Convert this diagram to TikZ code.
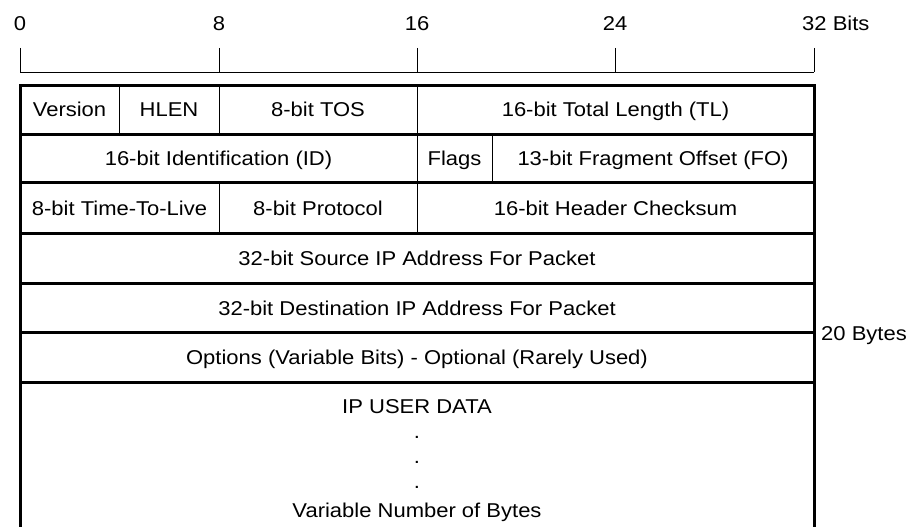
\documentclass[tikz,border=0pt]{standalone}
\usepackage{fontspec}
\setmainfont[FakeStretch=1.1]{Liberation Sans}
\begin{document}
\begin{tikzpicture}[x=1pt,y=-1pt,
  thinline/.style={line width=1pt,black},
  thickline/.style={line width=3pt,black},
  lbl/.style={inner sep=0pt,anchor=base,font=\fontsize{20}{24}\selectfont}]
\useasboundingbox (0,0) rectangle (915,527);
% ruler
\draw[thinline] (20,72) -- (814,72);
\foreach \x in {20,219,417,615,814} \draw[thinline] (\x,48) -- (\x,72);
\node[lbl] (b0) at (20,30.5) {0};
\node[lbl] (b8) at (219,30.5) {8};
\node[lbl] (b16) at (417,30.5) {16};
\node[lbl] (b24) at (615,30.5) {24};
\node[lbl,anchor=base west] (b32) at (802,30.5) {32 Bits};
% thin vertical separators
\draw[thinline] (119,85) -- (119,134);
\draw[thinline] (219,85) -- (219,134);
\draw[thinline] (417,85) -- (417,134);
\draw[thinline] (417,134) -- (417,182.5);
\draw[thinline] (492,134) -- (492,182.5);
\draw[thinline] (219,182.5) -- (219,233.5);
\draw[thinline] (417,182.5) -- (417,233.5);
% thick horizontal separators
\foreach \y in {134,182.5,233.5,283,332.5,382} \draw[thickline] (20,\y) -- (814,\y);
% outer frame
\draw[thickline,line join=miter] (20,530) -- (20,85) -- (814,85) -- (814,530);
% row 1
\node[lbl] (ver) at (69.5,116.5) {Version};
\node[lbl] (hlen) at (169,116.5) {HLEN};
\node[lbl] (tos) at (318,116.5) {8-bit TOS};
\node[lbl] (tl) at (615.5,116.5) {16-bit Total Length (TL)};
% row 2
\node[lbl] (id) at (218.5,165.5) {16-bit Identification (ID)};
\node[lbl] (flags) at (454.5,165.5) {Flags};
\node[lbl] (fo) at (653,165.5) {13-bit Fragment Offset (FO)};
% row 3
\node[lbl] (ttl) at (119.5,215.5) {8-bit Time-To-Live};
\node[lbl] (proto) at (318,215.5) {8-bit Protocol};
\node[lbl] (csum) at (615.5,215.5) {16-bit Header Checksum};
% rows 4-6
\node[lbl] (src) at (417,265.5) {32-bit Source IP Address For Packet};
\node[lbl] (dst) at (417,315) {32-bit Destination IP Address For Packet};
\node[lbl] (opt) at (417,364.5) {Options (Variable Bits) - Optional (Rarely Used)};
% row 7
\node[lbl] (data) at (417,413) {IP USER DATA};
\node[lbl] (d1) at (417,438) {.};
\node[lbl] (d2) at (417,463) {.};
\node[lbl] (d3) at (417,488) {.};
\node[lbl] (var) at (417,517) {Variable Number of Bytes};
% 20 bytes
\node[lbl,anchor=base west] (twenty) at (821,340) {20 Bytes};
\end{tikzpicture}
\end{document}
